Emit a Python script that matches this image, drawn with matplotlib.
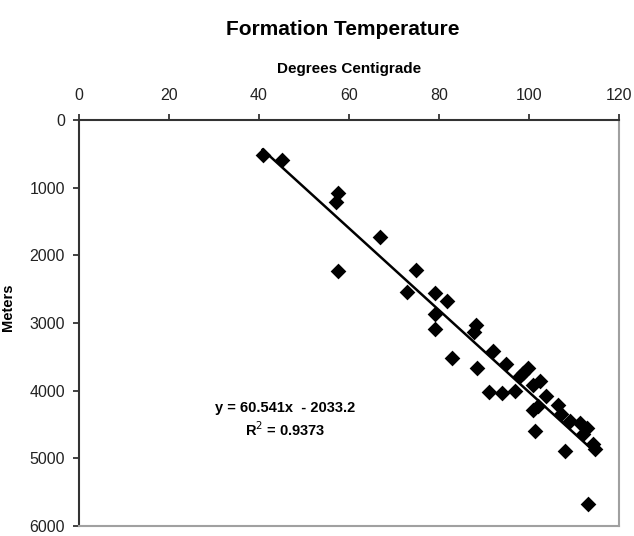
import matplotlib

matplotlib.use("Agg")
import matplotlib.pyplot as plt
import numpy as np

# Formation temperature (deg C) vs depth (m)
temp_c = [40.8, 45.2, 57.6, 57.1, 67.0, 57.5, 75.0, 72.8, 79.1, 81.7,
          79.1, 79.1, 88.2, 87.8, 82.8, 92.0, 88.4, 95.0, 91.2, 93.9,
          96.9, 99.8, 98.7, 98.0, 102.4, 101.0, 103.8, 101.0, 102.0, 106.4,
          107.2, 101.3, 109.2, 111.4, 112.8, 112.1, 114.3, 114.7, 108.0, 113.2]
depth_m = [513, 587, 1075, 1213, 1735, 2225, 2211, 2548, 2552, 2677,
           2860, 3095, 3037, 3139, 3516, 3418, 3667, 3600, 4019, 4034,
           4009, 3660, 3741, 3789, 3863, 3912, 4083, 4279, 4229, 4215,
           4340, 4590, 4455, 4480, 4550, 4645, 4792, 4866, 4890, 5672]

# linear trendline as printed on the chart
slope = 60.541
intercept = -2033.2
r_squared = 0.9373

x_ticks = [0, 20, 40, 60, 80, 100, 120]
y_ticks = [0, 1000, 2000, 3000, 4000, 5000, 6000]

plt.rcParams["font.family"] = ["Liberation Sans", "DejaVu Sans"]

fig = plt.figure(figsize=(6.34, 5.36), dpi=100)
ax = fig.add_axes([0.1246, 0.0187, 0.8517, 0.7574])

ax.scatter(temp_c, depth_m, marker="D", s=64, color="black", zorder=3, linewidths=0)

x_fit = np.array([min(temp_c), max(temp_c)])
ax.plot(x_fit, slope * x_fit + intercept, color="black", linewidth=1.8, zorder=2)

ax.set_xlim(0, 120)
ax.set_ylim(6000, 0)
ax.set_xticks(x_ticks)
ax.set_yticks(y_ticks)
ax.xaxis.tick_top()
ax.xaxis.set_label_position("top")
ax.tick_params(axis="both", direction="out", length=4, width=1.3, color="#333333",
               labelsize=11.5, labelcolor="#222222")
ax.tick_params(axis="x", pad=8)
ax.tick_params(axis="y", pad=6)

for side in ["left", "top"]:
    ax.spines[side].set_color("#333333")
    ax.spines[side].set_linewidth(1.5)
for side in ["right", "bottom"]:
    ax.spines[side].set_color("#a0a0a0")
    ax.spines[side].set_linewidth(1.5)

ax.set_xlabel("Degrees Centigrade", fontsize=11, fontweight="bold", labelpad=11)
ax.set_ylabel("Meters", fontsize=10.5, fontweight="bold")
ax.yaxis.set_label_coords(-0.1185, 0.54)
fig.text(0.541, 0.945, "Formation Temperature", ha="center", va="center",
         fontsize=15, fontweight="bold")

ax.text(45.8, 4430, f"y = {slope}x  - {abs(intercept)}\nR$^2$ = {r_squared}",
        ha="center", va="center", fontsize=10.5, fontweight="bold", linespacing=1.35)

plt.savefig("out.png", dpi=100)
plt.close()
